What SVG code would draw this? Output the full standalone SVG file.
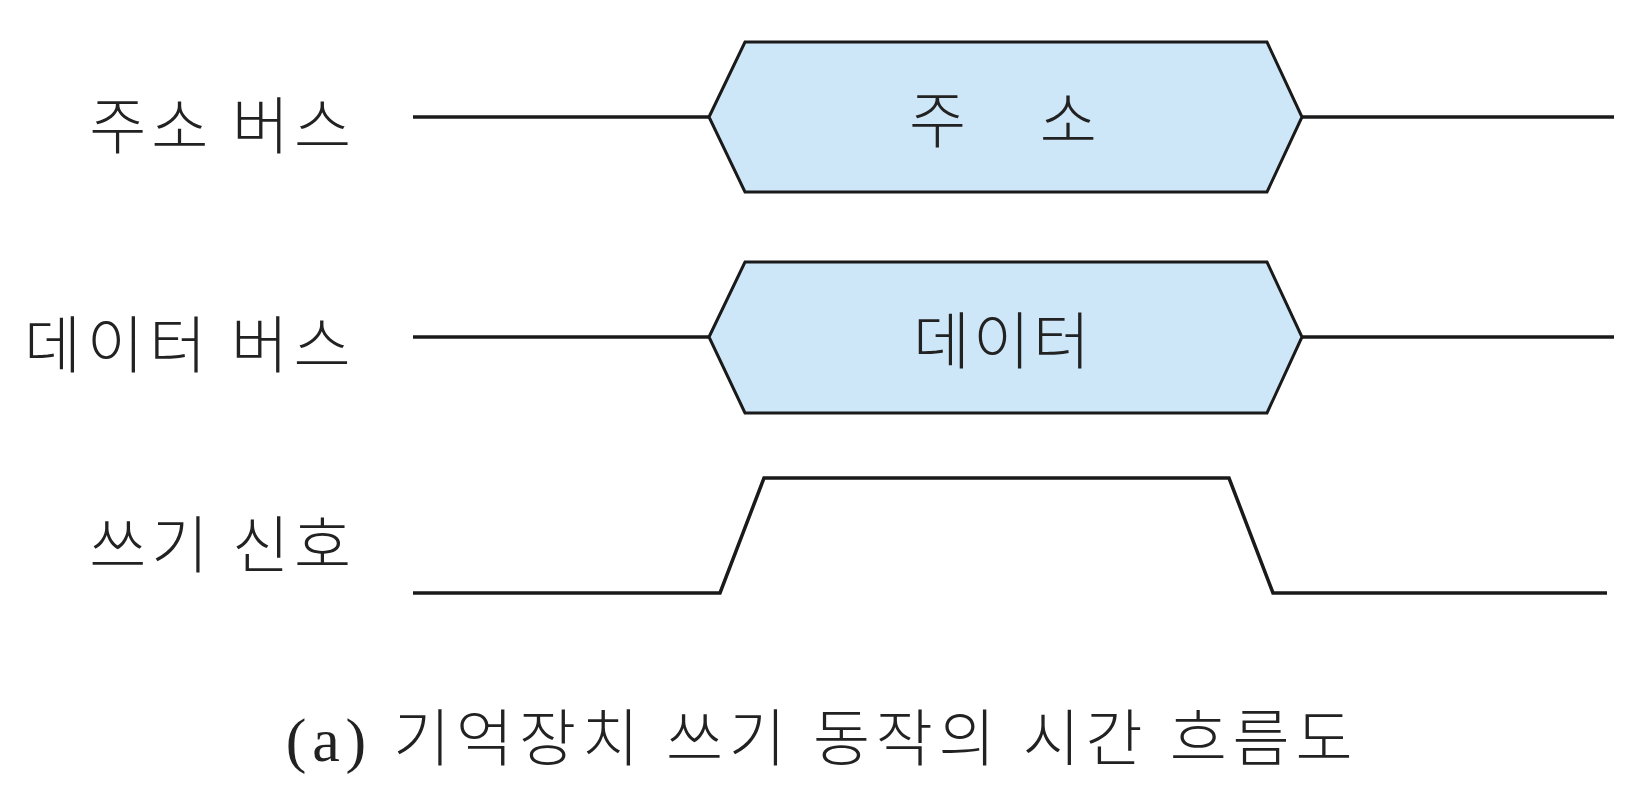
<svg xmlns="http://www.w3.org/2000/svg" width="1640" height="786" viewBox="0 0 1640 786">
<style>
.lbl{font-family:"Noto Sans CJK KR","Noto Sans",sans-serif;font-size:62px;font-weight:300;fill:#222;text-anchor:end}
.in{font-family:"Noto Sans CJK KR","Noto Sans",sans-serif;font-size:62px;font-weight:300;fill:#222;text-anchor:middle}
.cap{font-family:"Liberation Serif","Noto Sans CJK KR",serif;font-size:62px;font-weight:300;fill:#222;text-anchor:middle;letter-spacing:5.8px}
.sig{fill:none;stroke:#1a1a1a;stroke-width:3.5;stroke-linejoin:miter}
.hex{fill:#cde7f8;stroke:#1a1a1a;stroke-width:3}
</style>
<rect width="1640" height="786" fill="#fff"/>
<g id="labels">
<text class="lbl" x="356" y="149" letter-spacing="5">주소 버스</text>
<text class="lbl" x="356" y="368" letter-spacing="5.5">데이터 버스</text>
<text class="lbl" x="356" y="568" letter-spacing="5">쓰기 신호</text>
</g>
<g id="connectors">
<line class="sig" x1="413" y1="117" x2="709" y2="117"/>
<line class="sig" x1="1302" y1="117" x2="1614" y2="117"/>
<line class="sig" x1="413" y1="337" x2="709" y2="337"/>
<line class="sig" x1="1302" y1="337" x2="1614" y2="337"/>
</g>
<g id="address">
<polygon class="hex" points="709,117 745,42 1267,42 1302,117 1267,192 745,192"/>
<text class="in" x="1003" y="143" word-spacing="60">주 소</text>
</g>
<g id="data">
<polygon class="hex" points="709,337 745,262 1267,262 1302,337 1267,413 745,413"/>
<text class="in" x="1003" y="364" letter-spacing="3">데이터</text>
</g>
<g id="write">
<polyline class="sig" points="413,593 720,593 764,478 1229,478 1273,593 1607,593"/>
</g>
<g id="caption">
<text class="cap" x="822" y="761">(a) 기억장치 쓰기 동작의 시간 흐름도</text>
</g>
</svg>
